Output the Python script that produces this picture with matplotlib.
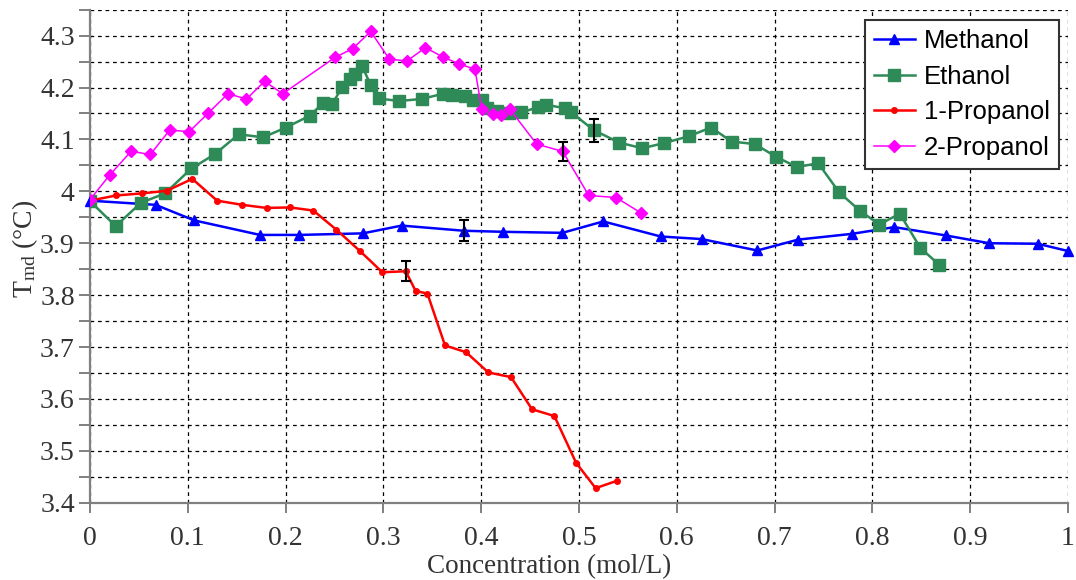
import matplotlib
matplotlib.use("Agg")
import matplotlib.pyplot as plt
from matplotlib.ticker import MultipleLocator

# ---- data ----
methanol_x = [0, 0.067, 0.1066, 0.1738, 0.214, 0.279, 0.3187, 0.3824, 0.4226, 0.483,
              0.5248, 0.5835, 0.6254, 0.6823, 0.7242, 0.7788, 0.8224, 0.875, 0.9195, 0.969, 1.0]
methanol_y = [3.982, 3.974, 3.944, 3.916, 3.916, 3.919, 3.934, 3.924, 3.922, 3.920,
              3.942, 3.913, 3.908, 3.886, 3.907, 3.918, 3.931, 3.915, 3.900, 3.899, 3.885]

ethanol_x = [0, 0.0263, 0.0521, 0.0767, 0.1036, 0.128, 0.152, 0.177, 0.2004, 0.225,
             0.2386, 0.2478, 0.258, 0.266, 0.271, 0.278, 0.287, 0.295, 0.316, 0.339,
             0.361, 0.370, 0.383, 0.392, 0.4005, 0.4055, 0.4165, 0.4287, 0.441, 0.458,
             0.466, 0.4857, 0.4915, 0.515, 0.541, 0.5647, 0.587, 0.612, 0.635, 0.656,
             0.680, 0.701, 0.7226, 0.7447, 0.766, 0.787, 0.807, 0.828, 0.849, 0.868]
ethanol_y = [3.981, 3.933, 3.978, 3.996, 4.044, 4.072, 4.110, 4.104, 4.123, 4.146,
             4.171, 4.169, 4.201, 4.217, 4.226, 4.242, 4.205, 4.179, 4.174, 4.178,
             4.188, 4.185, 4.184, 4.176, 4.176, 4.160, 4.154, 4.151, 4.152, 4.162,
             4.167, 4.160, 4.153, 4.118, 4.094, 4.083, 4.093, 4.106, 4.123, 4.096,
             4.091, 4.067, 4.047, 4.054, 3.998, 3.963, 3.936, 3.957, 3.891, 3.859]

propanol1_x = [0, 0.0266, 0.0528, 0.0784, 0.1046, 0.130, 0.1557, 0.1806, 0.2045, 0.2283,
               0.252, 0.276, 0.299, 0.3228, 0.333, 0.345, 0.363, 0.3845, 0.4073, 0.4305,
               0.452, 0.4748, 0.497, 0.517, 0.5385]
propanol1_y = [3.982, 3.992, 3.996, 4.001, 4.024, 3.982, 3.974, 3.968, 3.969, 3.963,
               3.926, 3.885, 3.844, 3.846, 3.808, 3.803, 3.703, 3.690, 3.651, 3.642,
               3.580, 3.567, 3.477, 3.428, 3.442]

propanol2_x = [0, 0.0204, 0.042, 0.0617, 0.0815, 0.1015, 0.121, 0.141, 0.160, 0.1786,
               0.197, 0.2505, 0.2686, 0.287, 0.306, 0.324, 0.343, 0.3606, 0.377, 0.3937,
               0.4005, 0.4117, 0.420, 0.4294, 0.4567, 0.4833, 0.510, 0.538, 0.5637]
propanol2_y = [3.984, 4.032, 4.077, 4.071, 4.118, 4.115, 4.151, 4.188, 4.178, 4.212,
               4.188, 4.258, 4.275, 4.308, 4.255, 4.251, 4.277, 4.259, 4.246, 4.235,
               4.158, 4.149, 4.147, 4.158, 4.091, 4.077, 3.992, 3.988, 3.958]

# error bars (x, y, half-size)
err_x = [0.3824, 0.3228, 0.4833, 0.515]
err_y = [3.924, 3.846, 4.077, 4.118]
err_size = [0.020, 0.019, 0.019, 0.022]

series_names = ["Methanol", "Ethanol", "1-Propanol", "2-Propanol"]
x_ticks = [0, 0.1, 0.2, 0.3, 0.4, 0.5, 0.6, 0.7, 0.8, 0.9, 1]
x_tick_labels = ["0", "0.1", "0.2", "0.3", "0.4", "0.5", "0.6", "0.7", "0.8", "0.9", "1"]
y_ticks = [3.4, 3.5, 3.6, 3.7, 3.8, 3.9, 4.0, 4.1, 4.2, 4.3]
y_tick_labels = ["3.4", "3.5", "3.6", "3.7", "3.8", "3.9", "4", "4.1", "4.2", "4.3"]

plt.rcParams['mathtext.fontset'] = 'custom'
plt.rcParams['mathtext.rm'] = 'Liberation Serif'
plt.rcParams['mathtext.it'] = 'Liberation Serif:italic'

fig = plt.figure(figsize=(10.76, 5.8), dpi=100)
ax = fig.add_axes([90/1076, 77.3/580, 978/1076, 493/580])

ax.plot(methanol_x, methanol_y, color="#0000FF", lw=1.8, marker="^", ms=6.5,
        label=series_names[0], clip_on=False, zorder=3)
ax.plot(ethanol_x, ethanol_y, color="#2E8B57", lw=1.8, marker="s", ms=8,
        label=series_names[1], zorder=3)
ax.plot(propanol1_x, propanol1_y, color="#FF0000", lw=1.8, marker="o", ms=4,
        label=series_names[2], zorder=3)
ax.plot(propanol2_x, propanol2_y, color="#FF00FF", lw=1.1, marker="D", ms=6.5,
        label=series_names[3], zorder=3)
ax.errorbar(err_x, err_y, yerr=err_size, fmt="none", ecolor="black", elinewidth=1.5,
            capsize=3.5, capthick=1.5, zorder=4)

ax.set_xlim(0, 1)
ax.set_ylim(3.4, 4.35)
ax.set_xticks(x_ticks)
ax.set_xticklabels(x_tick_labels)
ax.set_yticks(y_ticks)
ax.set_yticklabels(y_tick_labels)
ax.yaxis.set_minor_locator(MultipleLocator(0.05))

ax.grid(True, which="both", color="black", linestyle=(0, (3, 3)), linewidth=0.9)
ax.set_axisbelow(True)

for s in ["top", "right"]:
    ax.spines[s].set_visible(False)
for s in ["left", "bottom"]:
    ax.spines[s].set_color("#808080")
    ax.spines[s].set_linewidth(1.6)

ax.tick_params(axis="both", which="both", color="#808080", width=1.4, direction="out")
ax.tick_params(axis="y", which="both", length=8, pad=3)
ax.tick_params(axis="x", which="major", length=7, pad=10)
for lab in ax.get_xticklabels() + ax.get_yticklabels():
    lab.set_fontfamily("Liberation Serif")
    lab.set_fontsize(20)
    lab.set_color("#333333")

ax.set_xlabel("Concentration (mol/L)", fontfamily="Liberation Serif", fontsize=19.5,
              color="#333333")
ax.xaxis.set_label_coords(0.469, -0.104)
ax.set_ylabel(r"T$_{\rm md}$ (°C)", fontfamily="Liberation Serif", fontsize=20,
              color="#333333")
ax.yaxis.set_label_coords(-0.051, 0.515)

leg = ax.legend(loc="upper right", bbox_to_anchor=(1059/1076, 1 - 20/580),
                bbox_transform=fig.transFigure,
                prop={"family": "Liberation Sans", "size": 18.5}, frameon=True, fancybox=False,
                edgecolor="#333333", framealpha=1, handlelength=1.6, handletextpad=0.35,
                borderpad=0.35, labelspacing=0.45, borderaxespad=0)
leg.get_frame().set_linewidth(1.5)

fig.savefig("out.png", dpi=100, facecolor="white")
